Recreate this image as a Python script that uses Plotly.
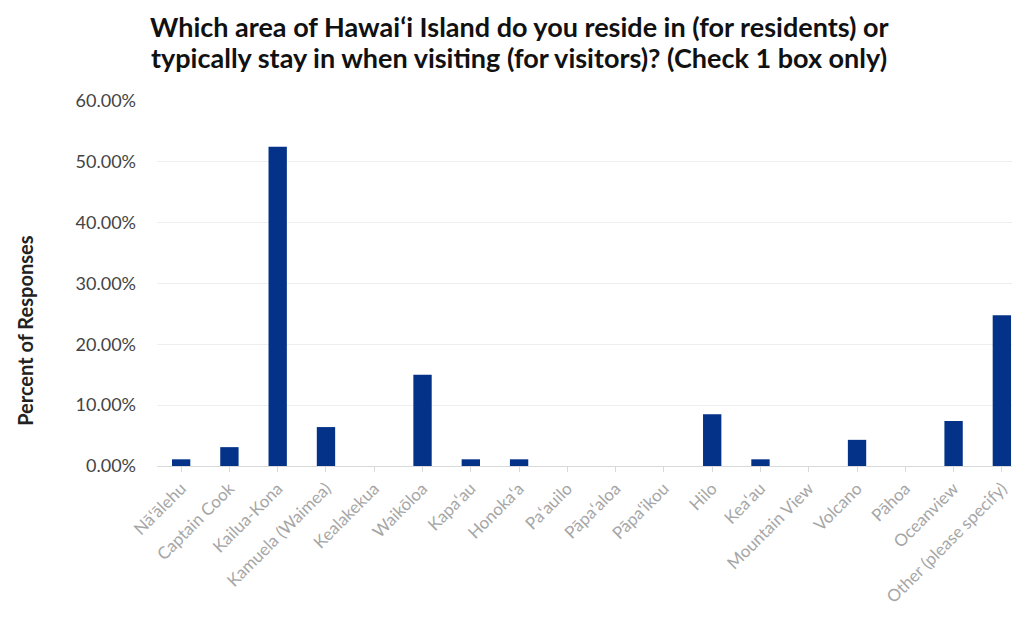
import plotly.graph_objects as go

categories = ["Nāʻālehu", "Captain Cook", "Kailua-Kona", "Kamuela (Waimea)", "Kealakekua",
              "Waikōloa", "Kapaʻau", "Honokaʻa", "Paʻauilo", "Pāpaʻaloa", "Pāpaʻikou", "Hilo",
              "Keaʻau", "Mountain View", "Volcano", "Pāhoa", "Oceanview", "Other (please specify)"]
values = [1.1, 3.1, 52.5, 6.4, 0.0, 15.0, 1.1, 1.1, 0.0, 0.0, 0.0, 8.5,
          1.1, 0.0, 4.3, 0.0, 7.4, 24.8]
y_ticks = [0, 10, 20, 30, 40, 50, 60]
y_tick_labels = ["0.00%", "10.00%", "20.00%", "30.00%", "40.00%", "50.00%", "60.00%"]
title_lines = ["Which area of Hawaiʻi Island do you reside in (for residents) or",
               "typically stay in when visiting (for visitors)? (Check 1 box only)"]
y_title = "Percent of Responses"

fig = go.Figure()
fig.add_trace(go.Bar(x=list(range(len(categories))), y=values, width=0.38,
                     marker=dict(color="#043289", line=dict(width=0))))

for i, line in enumerate(title_lines):
    fig.add_annotation(text="<b>" + line + "</b>", xref="paper", yref="paper",
                       x=0.417, xanchor="center", y=1 + (93 - 18 - 32 * i) / 365.0,
                       yanchor="middle", showarrow=False, borderpad=0,
                       font=dict(family="Lato, sans-serif", size=27, color="#111111"))

fig.add_annotation(text="<b>" + y_title + "</b>", xref="paper", yref="paper",
                   x=-0.152, xanchor="center", y=0.37, yanchor="middle",
                   textangle=-90, showarrow=False,
                   font=dict(family="Lato, sans-serif", size=20, color="#222222"))

fig.update_layout(
    width=1020, height=617,
    margin=dict(l=149, r=2, t=93, b=159),
    paper_bgcolor="white", plot_bgcolor="white",
    font=dict(family="Lato, sans-serif", color="#333333"),
    showlegend=False,
    xaxis=dict(
        tickmode="array", tickvals=list(range(len(categories))), ticktext=categories,
        tickangle=-45, tickfont=dict(size=17, color="#a6a6a6"),
        range=[-0.5, 17.5], showgrid=False, showline=True, linecolor="#d9d9d9",
        ticks="outside", ticklen=5, tickcolor="#d9d9d9", zeroline=False,
    ),
    yaxis=dict(
        tickmode="array", tickvals=y_ticks, ticktext=y_tick_labels,
        range=[0, 60], showgrid=True, gridcolor="#eeeeee", zeroline=False,
        tickfont=dict(size=18, color="#444444"), ticks="", ticklabelstandoff=20,
    ),
)

fig.write_html("out.html")
